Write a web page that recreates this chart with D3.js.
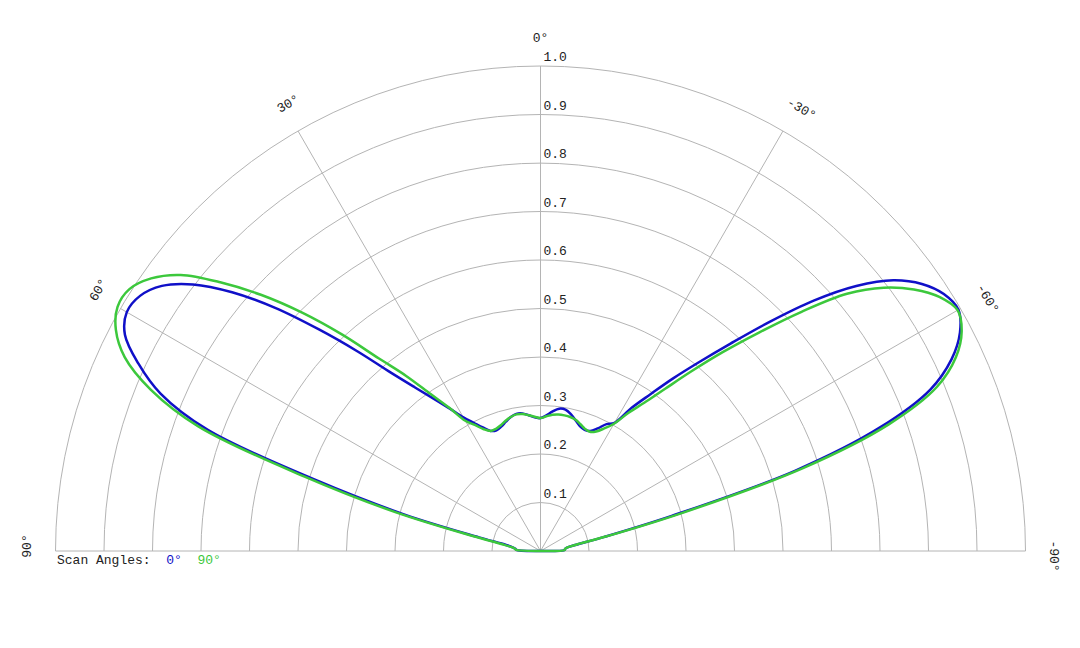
<!doctype html>
<html lang="en">
<head>
  <meta charset="utf-8">
  <title>Polar pattern</title>
  <script type="text/javascript" src="https://cdnjs.cloudflare.com/ajax/libs/d3/7.8.5/d3.min.js"></script>
  <style>
    body { margin: 0; background: #fff; }
    text { font-family: "Courier New", "Liberation Mono", monospace; font-size: 13px; fill: #222; }
  </style>
</head>
<body>
<svg width="1080" height="648" id="svg"></svg>

<script type="text/javascript">

  // angles in degrees, positive = left of broadside
  var angles = [
    -90, -87.5, -85, -82.5, -80, -77.5, -75, -72.5, -70, -67.5, -65, -62.5,
    -60, -57.5, -55, -52.5, -50, -47.5, -45, -42.5, -40, -37.5, -35, -32.5,
    -30, -27.5, -25, -22.5, -20, -17.5, -15, -12.5, -10, -7.5, -5, -2.5,
    0,
    2.5, 5, 7.5, 10, 12.5, 15, 17.5, 20, 22.5, 25, 27.5, 30,
    32.5, 35, 37.5, 40, 42.5, 45, 47.5, 50, 52.5, 55, 57.5, 60,
    62.5, 65, 67.5, 70, 72.5, 75, 77.5, 80, 82.5, 85, 87.5, 90
  ];

  // scan angle 0
  var scan0 = [
    0, 0.05, 0.051, 0.056, 0.075, 0.135, 0.28, 0.55, 0.745, 0.87, 0.935, 0.975,
    0.995, 0.986, 0.96, 0.917, 0.85, 0.764, 0.668, 0.58, 0.508, 0.448, 0.394, 0.35,
    0.305, 0.295, 0.279, 0.268, 0.266, 0.27, 0.279, 0.289, 0.296, 0.296, 0.289, 0.28,
    0.274,
    0.276, 0.281, 0.286, 0.287, 0.283, 0.276, 0.269, 0.265, 0.268, 0.281, 0.298, 0.318,
    0.348, 0.383, 0.425, 0.48, 0.558, 0.646, 0.742, 0.83, 0.903, 0.953, 0.979, 0.985,
    0.966, 0.915, 0.848, 0.73, 0.485, 0.29, 0.13, 0.072, 0.058, 0.052, 0.05, 0
  ];

  // scan angle 90
  var scan90 = [
    0, 0.05, 0.051, 0.056, 0.075, 0.14, 0.30, 0.565, 0.765, 0.885, 0.945, 0.979,
    0.993, 0.975, 0.94, 0.892, 0.825, 0.73, 0.637, 0.556, 0.483, 0.421, 0.373, 0.338,
    0.303, 0.285, 0.272, 0.266, 0.268, 0.274, 0.28, 0.283, 0.284, 0.284, 0.282, 0.278,
    0.274,
    0.277, 0.281, 0.285, 0.286, 0.283, 0.278, 0.272, 0.268, 0.268, 0.277, 0.293, 0.31,
    0.35, 0.395, 0.455, 0.518, 0.605, 0.695, 0.782, 0.862, 0.935, 0.98, 1.005, 1.007,
    0.987, 0.946, 0.87, 0.75, 0.51, 0.31, 0.145, 0.08, 0.06, 0.053, 0.05, 0
  ];

  var ringTicks = [0.1, 0.2, 0.3, 0.4, 0.5, 0.6, 0.7, 0.8, 0.9, 1.0];
  var spokeAngles = [-60, -30, 0, 30, 60];
  var labelAngles = [0, 30, -30, 60, -60, 90, -90];

  var series = [
    { name: '0\u00b0', values: scan0, color: '#1010c8' },
    { name: '90\u00b0', values: scan90, color: '#3cc83c' }
  ];

  var cx = 540.5, cy = 551, R = 485;

  var r = d3.scaleLinear().domain([0, 1]).range([0, R]);
  // d3 angle: 0 = up, clockwise; our positive angles go left
  var a = function(deg) { return -deg * Math.PI / 180; };

  var svg = d3.select('#svg');
  var g = svg.append('g').attr('transform', 'translate(' + cx + ',' + cy + ')');

  var grid = g.append('g')
    .attr('fill', 'none')
    .attr('stroke', '#b4b4b4')
    .attr('stroke-width', 1);

  grid.selectAll('path.ring')
    .data(ringTicks)
    .enter()
    .append('path')
    .attr('class', 'ring')
    .attr('d', function(d) {
      var rr = r(d);
      return 'M' + (-rr) + ',0A' + rr + ',' + rr + ' 0 0,1 ' + rr + ',0';
    });

  grid.append('line')
    .attr('x1', -r(1)).attr('x2', r(1))
    .attr('y1', 0).attr('y2', 0);

  grid.selectAll('line.spoke')
    .data(spokeAngles)
    .enter()
    .append('line')
    .attr('class', 'spoke')
    .attr('x1', 0).attr('y1', 0)
    .attr('x2', function(d) { return r(1) * Math.sin(a(d)); })
    .attr('y2', function(d) { return -r(1) * Math.cos(a(d)); });

  // ring value labels
  g.append('g')
    .selectAll('text')
    .data(ringTicks)
    .enter()
    .append('text')
    .attr('x', 3)
    .attr('y', function(d) { return -r(d) - 5; })
    .text(d3.format('.1f'));

  // angle labels
  g.append('g')
    .selectAll('text')
    .data(labelAngles)
    .enter()
    .append('text')
    .attr('text-anchor', 'middle')
    .attr('dominant-baseline', 'central')
    .attr('transform', function(d) {
      var rr = r(1) + 28;
      var x = rr * Math.sin(a(d)), y = -rr * Math.cos(a(d));
      return 'translate(' + x + ',' + y + ') rotate(' + (-d) + ')';
    })
    .attr('dx', function(d) { return d === 0 ? 0 : 5; })
    .text(function(d) { return d + '\u00b0'; });

  var line = d3.lineRadial()
    .angle(function(d, i) { return a(angles[i]); })
    .radius(function(d) { return r(d); })
    .curve(d3.curveCatmullRom.alpha(0.5));

  g.append('g')
    .selectAll('path')
    .data(series)
    .enter()
    .append('path')
    .attr('d', function(d) { return line(d.values); })
    .attr('fill', 'none')
    .attr('stroke', function(d) { return d.color; })
    .attr('stroke-width', 2.5)
    .attr('stroke-linejoin', 'round');

  // legend
  var legend = svg.append('text')
    .attr('x', 57)
    .attr('y', 564)
    .attr('xml:space', 'preserve')
    .style('white-space', 'pre');

  legend.append('tspan').text('Scan Angles:  ');
  series.forEach(function(s, i) {
    legend.append('tspan')
      .style('fill', s.color)
      .text(s.name + (i < series.length - 1 ? '  ' : ''));
  });

</script>
</body>
</html>
